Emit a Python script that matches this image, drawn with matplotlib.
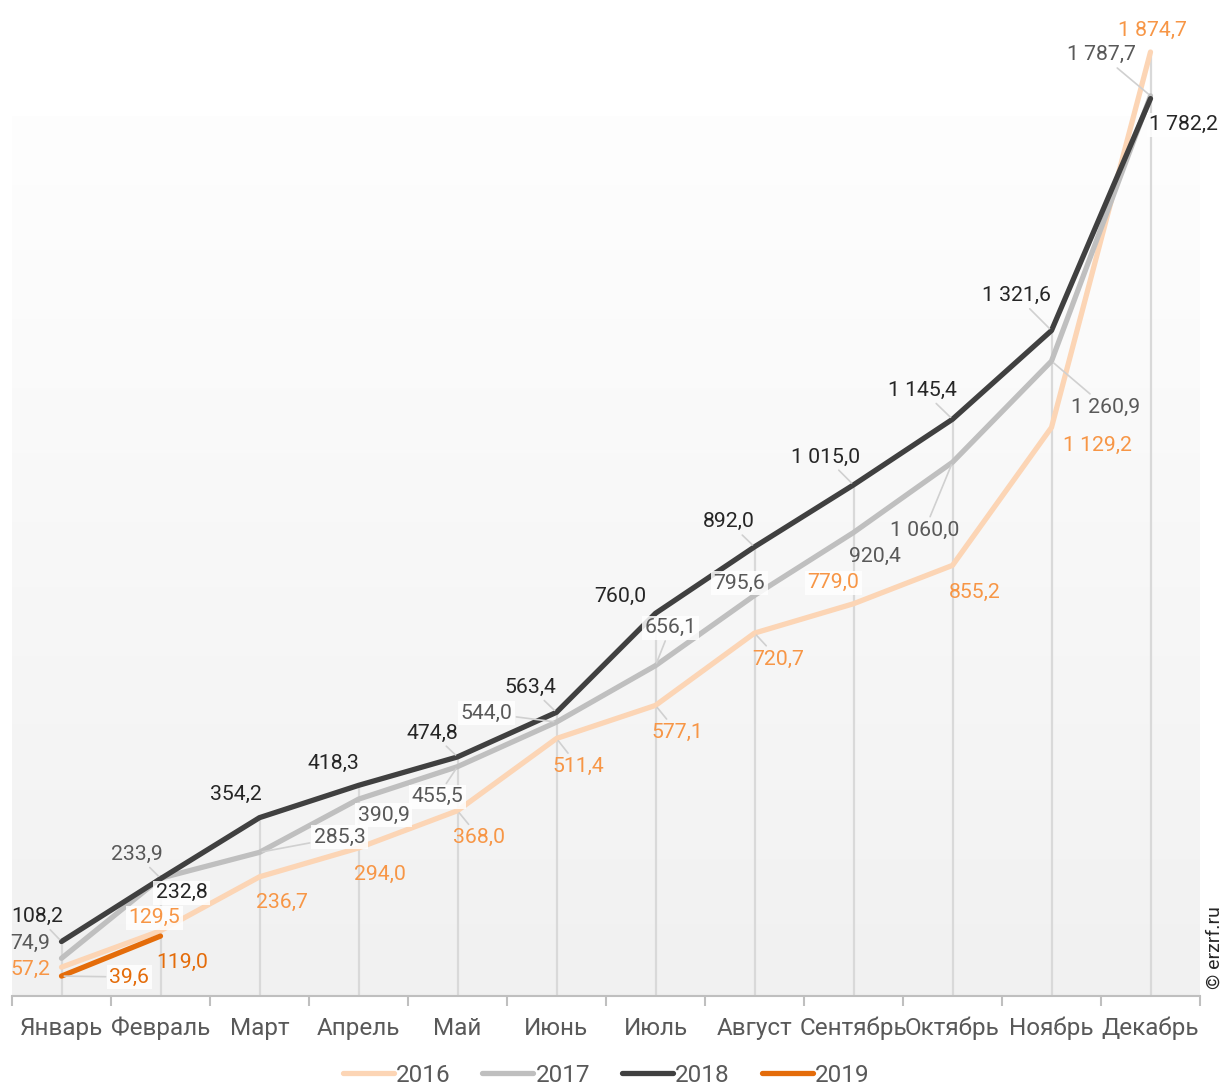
import matplotlib
matplotlib.use('Agg')
import matplotlib.pyplot as plt
from matplotlib.lines import Line2D
import numpy as np

plt.rcParams['font.family'] = ['Roboto', 'DejaVu Sans']

months = ['Январь', 'Февраль', 'Март', 'Апрель', 'Май', 'Июнь',
          'Июль', 'Август', 'Сентябрь', 'Октябрь', 'Ноябрь', 'Декабрь']

vals_2016 = [57.2, 129.5, 236.7, 294.0, 368.0, 511.4, 577.1, 720.7, 779.0, 855.2, 1129.2, 1874.7]
vals_2017 = [74.9, 233.9, 285.3, 390.9, 455.5, 544.0, 656.1, 795.6, 920.4, 1060.0, 1260.9, 1787.7]
vals_2018 = [108.2, 232.8, 354.2, 418.3, 474.8, 563.4, 760.0, 892.0, 1015.0, 1145.4, 1321.6, 1782.2]
vals_2019 = [39.6, 119.0]

years = ['2016', '2017', '2018', '2019']
series = [vals_2016, vals_2017, vals_2018, vals_2019]
line_colors = ['#fcd5b5', '#bfbfbf', '#404040', '#e46c0a']
label_colors = ['#f79646', '#595959', '#262626', '#e46c0a']

# label offsets from each point, in pixels (x right, y up)
offsets = [
    [(-31, -2), (-6, 13), (22, -26), (21, -26), (22, -27), (22, -28),
     (22, -27), (24, -26), (-20, 21), (22, -27), (46, -18), (2, 22)],
    [(-31, 15), (-24, 24), (80, 15), (25, -16), (-20, -30), (-70, 9),
     (15, 38), (-15, 12), (21, -24), (-28, -68), (54, -46), (-49, 41)],
    [(-24, 25), (21, -14), (-24, 23), (-25, 22), (-25, 24), (-26, 25),
     (-35, 17), (-26, 25), (-28, 28), (-30, 29), (-35, 35), (33, -26)],
    [(68, -1), (22, -26)],
]
# which labels get a leader line / a white backing box (series index, month index)
leaders = {(0, 4), (0, 5), (0, 6), (0, 7),
           (1, 1), (1, 2), (1, 4), (1, 5), (1, 6), (1, 9), (1, 10), (1, 11),
           (2, 0), (2, 4), (2, 5), (2, 7), (2, 8), (2, 9), (2, 10),
           (3, 0)}
boxed = {(0, 1), (0, 8), (1, 2), (1, 3), (1, 4), (1, 5), (1, 6), (1, 7),
         (2, 1), (2, 11), (3, 0)}


def fmt(v):
    return f'{v:,.1f}'.replace(',', ' ').replace('.', ',')


fig = plt.figure(figsize=(12.27, 10.88), dpi=100)
ax = fig.add_axes([12 / 1227, 92 / 1088, 1188 / 1227, 996 / 1088])
ax.set_xlim(-0.5, 11.5)
ax.set_ylim(0, 1978)

# soft vertical gradient behind the plot area
grad = np.linspace(0, 1, 256).reshape(-1, 1)
top, bottom = np.array([0.996, 0.996, 0.996]), np.array([0.945, 0.945, 0.945])
img = bottom + (top - bottom) * grad
ax.imshow(img[:, None, :].repeat(2, axis=1), extent=(-0.5, 11.5, 0, 1746),
          origin='lower', aspect='auto', zorder=0)

x = np.arange(len(months))
tops = np.max([vals_2016, vals_2017, vals_2018], axis=0)
ax.vlines(x, 0, tops, color='#d9d9d9', lw=1.6, zorder=1)

for i, (vals, lc) in enumerate(zip(series, line_colors)):
    ax.plot(x[:len(vals)], vals, color=lc, lw=3.8, solid_capstyle='round',
            solid_joinstyle='round', zorder=2 + i)

for i, vals in enumerate(series):
    for j, v in enumerate(vals):
        kw = dict(textcoords='offset pixels', ha='center', va='center',
                  fontsize=15.3, color=label_colors[i], zorder=10)
        if (i, j) in boxed:
            kw['bbox'] = dict(boxstyle='square,pad=0.12', fc='white', ec='none', alpha=0.85)
        if (i, j) in leaders:
            kw['arrowprops'] = dict(arrowstyle='-', color='#d0d0d0', lw=1.2,
                                    shrinkA=1, shrinkB=2)
        ax.annotate(fmt(v), (x[j], v), xytext=offsets[i][j], **kw)

for s in ['top', 'right', 'left']:
    ax.spines[s].set_visible(False)
ax.spines['bottom'].set_color('#bfbfbf')
ax.spines['bottom'].set_linewidth(1.5)
ax.set_yticks([])
ax.set_xticks(x)
ax.set_xticklabels(months, fontsize=17.5, color='#595959')
ax.tick_params(axis='x', which='major', length=0, pad=15)
ax.set_xticks(np.arange(-0.5, 12, 1), minor=True)
ax.tick_params(axis='x', which='minor', length=7, width=1.5, color='#bfbfbf')

fig.text(1215 / 1227, (1088 - 948) / 1088, '© erzrf.ru', rotation=90,
         ha='center', va='center', fontsize=14, color='#262626')

handles = [Line2D([], [], color=c, lw=3.8, solid_capstyle='round') for c in line_colors]
fig.legend(handles, years, loc='center', bbox_to_anchor=(0.494, 13 / 1088), ncol=4,
           frameon=False, fontsize=17.5, handlelength=2.1, handletextpad=0.1,
           columnspacing=1.3, labelcolor='#595959', borderpad=0.1)

fig.savefig('out.png', dpi=100)
